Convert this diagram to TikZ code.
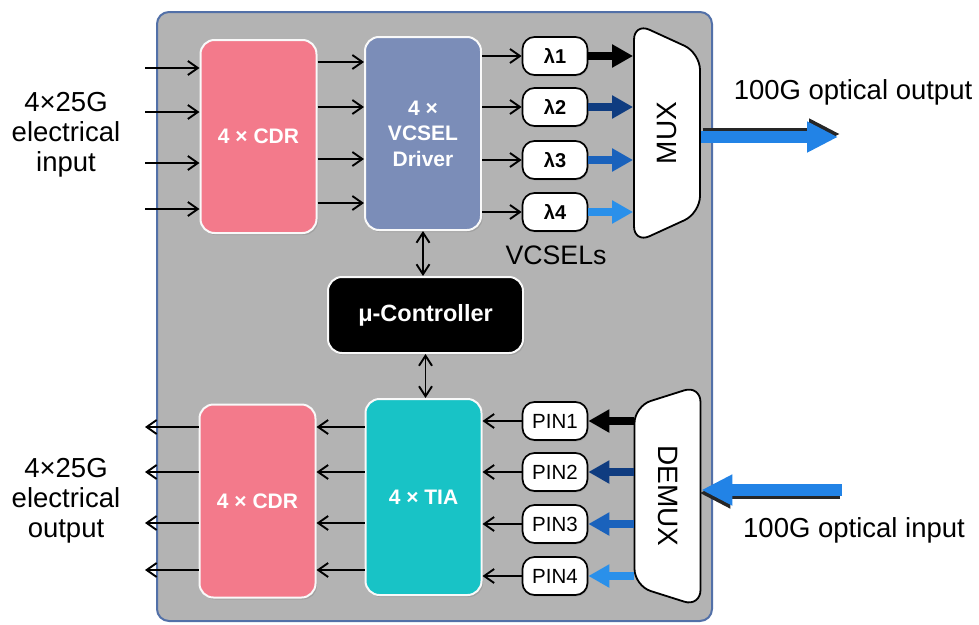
\documentclass[tikz,border=0pt]{standalone}
\usepackage{fontspec}
\setmainfont{Liberation Sans}
\usetikzlibrary{arrows.meta,shapes.geometric,shadows}
\definecolor{panelgray}{HTML}{B3B3B3}
\definecolor{panelblue}{HTML}{5270A8}
\definecolor{cdrpink}{HTML}{F37A8B}
\definecolor{drvblue}{HTML}{7B8DB8}
\definecolor{tiacyan}{HTML}{18C3C6}
\definecolor{fibreA}{HTML}{0F3C80}
\definecolor{fibreB}{HTML}{1A62BC}
\definecolor{fibreC}{HTML}{2A90EA}
\definecolor{beamblue}{HTML}{2283E6}
\newcommand{\fsz}[2]{\fontsize{#1}{#2}\selectfont}
\tikzset{
  panel/.style   = {draw=panelblue, fill=panelgray, line width=2pt, rounded corners=12pt},
  blk/.style     = {draw=white!95!gray, line width=2pt, rounded corners=14pt, text=white,
                    font=\fsz{21}{25.5}\bfseries, align=center,
                    minimum width=116pt, minimum height=193pt,
                    drop shadow={shadow xshift=1.5pt, shadow yshift=-2pt, opacity=.35}},
  ctrlbox/.style = {blk, fill=black, font=\fsz{23.5}{28}\bfseries,
                    minimum width=195pt, minimum height=76pt},
  laser/.style   = {draw=black, fill=white, line width=1.7pt, rounded corners=12pt,
                    minimum width=65pt, minimum height=38pt, inner sep=0pt,
                    font=\fsz{20.5}{24},
                    drop shadow={shadow xshift=1pt, shadow yshift=-1.5pt, opacity=.3}},
  muxbox/.style  = {trapezium, trapezium angle=59, trapezium stretches=true,
                    shape border rotate=180, draw=black, fill=white, line width=1.8pt,
                    rounded corners=17pt, minimum width=222pt, minimum height=66pt,
                    inner sep=0pt, font=\fsz{28}{32}},
  sig/.style     = {-{Straight Barb[length=10pt,width=14pt]}, line width=1.9pt},
  sigboth/.style = {{Straight Barb[length=10pt,width=13pt]}-{Straight Barb[length=10pt,width=13pt]},
                    line width=1.9pt},
  fibre/.style   = {line width=8pt, -{Triangle[length=21pt,width=22pt]}},
  beam/.style    = {line width=12pt, -{Triangle[length=31pt,width=29pt]}},
  lbl/.style     = {font=\fsz{27.5}{30}, align=center}
}

\begin{document}
\begin{tikzpicture}[x=1pt, y=-1pt]
  \useasboundingbox (0,0) rectangle (979,624);
  \draw[panel] (157,12) rectangle (712,621);

  % transmit side
  \node[blk, fill=cdrpink] (cdrtx) at (258.5,136.5) {4 × CDR};
  \node[blk, fill=drvblue] (drv)   at (423,133.5)   {4 ×\\VCSEL\\Driver};
  \foreach \y [count=\i] in {56,107,160,212}
    \node[laser, font=\fsz{20}{24}\bfseries] (lam\i) at (555,\y) {λ\i};
  \node[muxbox, rotate=90] (mux) at (667,133) {MUX};
  \node[lbl, font=\fsz{26.7}{30}] (vcsels) at (556,255) {VCSELs};

  % receive side
  \node[blk, fill=cdrpink] (cdrrx) at (257.5,501) {4 × CDR};
  \node[blk, fill=tiacyan, minimum height=196pt] (tia) at (423.5,497) {4 × TIA};
  \foreach \y [count=\i] in {421,472,524,576}
    \node[laser] (pin\i) at (555,\y) {PIN\i};
  \node[muxbox, rotate=-90] (demux) at (667.5,496) {DEMUX};

  \node[ctrlbox] (muc) at (425.5,315) {μ-Controller};

  % outside labels
  \node[lbl] (elin)   at (66,135)  {4×25G\\electrical\\input};
  \node[lbl] (elout)  at (66,501)  {4×25G\\electrical\\output};
  \node[lbl] (optlo)  at (853,92)  {100G optical output};
  \node[lbl] (optli)  at (854,530) {100G optical input};

  % electrical lanes
  \foreach \y [count=\i] in {68,112,163,209} {
    \coordinate (ein\i) at (145,\y);
    \draw[sig] (ein\i) -- (cdrtx.west |- ein\i);
  }
  \foreach \y in {62,107,159,203}
    \draw[sig] (cdrtx.east |- 0,\y) -- (drv.west |- 0,\y);
  \foreach \i in {1,...,4}
    \draw[sig] (drv.east |- lam\i) -- (lam\i);
  \foreach \i in {1,...,4}
    \draw[sig] (pin\i) -- (tia.east |- pin\i);
  \foreach \y [count=\i] in {427,472,523,570} {
    \coordinate (eout\i) at (145,\y);
    \draw[sig] (tia.west |- eout\i) -- (cdrrx.east |- eout\i);
    \draw[sig] (cdrrx.west |- eout\i) -- (eout\i);
  }
  \draw[sigboth] (drv.south) -- (drv.south |- muc.north);
  \draw[sigboth] (muc.south) -- (muc.south |- tia.north);

  % optical lanes
  \foreach \c [count=\i] in {black,fibreA,fibreB,fibreC} {
    \draw[fibre, color=\c] (lam\i) -- (mux.north |- lam\i);
    \draw[fibre, color=\c] (demux.south |- pin\i) -- (pin\i);
  }
  \coordinate (optout) at (838,137);
  \coordinate (optin)  at (842,490);
  \draw[beam, color=black!85, transform canvas={xshift=2pt,yshift=3pt}]
       (mux.south |- optout) -- (optout);
  \draw[beam, color=beamblue] (mux.south |- optout) -- (optout);
  \draw[beam, color=black!85, transform canvas={xshift=-2pt,yshift=-3pt}]
       (optin) -- (demux.north |- optin);
  \draw[beam, color=beamblue] (optin) -- (demux.north |- optin);
\end{tikzpicture}
\end{document}
